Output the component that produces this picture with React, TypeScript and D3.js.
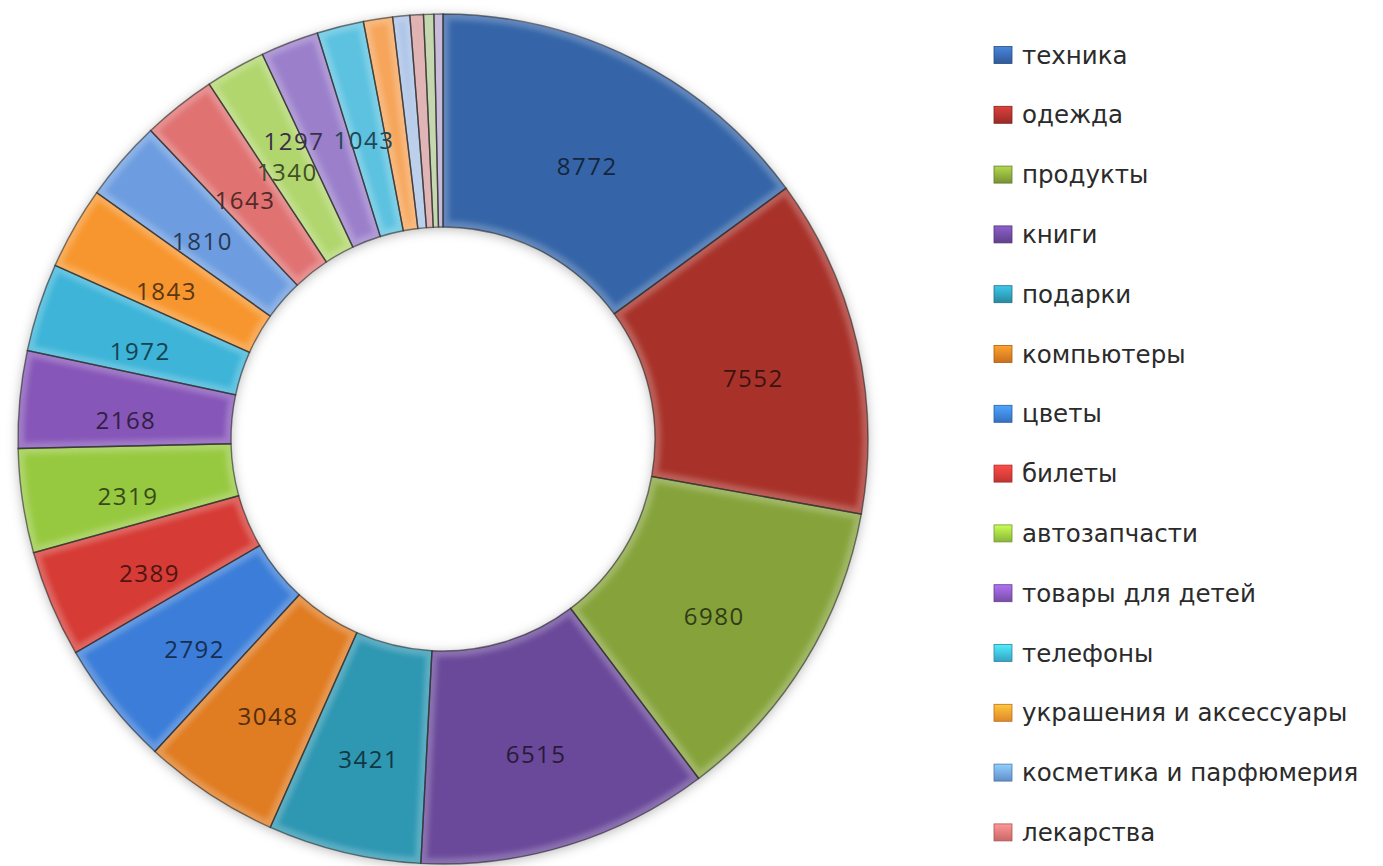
import React from "react";
import * as d3 from "d3";

// ---- data ----
const categories = [
  "техника",
  "одежда",
  "продукты",
  "книги",
  "подарки",
  "компьютеры",
  "цветы",
  "билеты",
  "автозапчасти",
  "товары для детей",
  "телефоны",
  "украшения и аксессуары",
  "косметика и парфюмерия",
  "лекарства",
];

const values = [
  8772, 7552, 6980, 6515, 3421, 3048, 2792, 2389, 2319, 2168, 1972, 1843,
  1810, 1643, 1340, 1297, 1043, 650, 380, 300, 230, 200,
];

const palette = [
  "#3565a8", "#a8302c", "#86a33a", "#6a489a", "#2e97b2", "#e07b22",
  "#3b7dd8", "#d63a36", "#97c940", "#8656b8", "#3cb4d8", "#f7962e",
  "#6d9de0", "#e07272", "#b1d66e", "#9b7fcb", "#5bc2e0", "#f6a55a",
  "#a9c1e6", "#d9a0a0", "#b3cc98", "#b8a9cf",
];

// label nudges (crowded small slices), in px
const labelNudge: Record<number, [number, number]> = {
  15: [-34, -12],
  16: [-2, 0],
};

const W = 1383;
const H = 866;
const cx = 443;
const cy = 439;
const outerR = 425;
const innerR = 212;

export default function App() {
  const pie = d3.pie<number>().sort(null).value((d) => d)(values);
  const arc = d3.arc<d3.PieArcDatum<number>>().innerRadius(innerR).outerRadius(outerR);

  const legendY = d3
    .scalePoint<string>()
    .domain(categories)
    .range([55, 55 + 59.8 * (categories.length - 1)]);

  return (
    <svg
      width={W}
      height={H}
      style={{ position: "absolute", left: 0, top: 0, background: "#fff" }}
    >
      <defs>
        <filter id="shadow" x="-10%" y="-10%" width="120%" height="120%">
          <feDropShadow dx="0" dy="2" stdDeviation="6" floodColor="#000" floodOpacity="0.28" />
        </filter>
        <filter id="soft" x="-5%" y="-5%" width="110%" height="110%">
          <feGaussianBlur stdDeviation="2.5" />
        </filter>
        {pie.map((p, i) => (
          <clipPath id={`clip-${i}`} key={i}>
            <path d={arc(p) || ""} />
          </clipPath>
        ))}
        {palette.slice(0, categories.length).map((c, i) => (
          <linearGradient id={`lg-${i}`} key={i} x1="0" y1="0" x2="0" y2="1">
            <stop offset="0" stopColor={d3.color(c)!.brighter(0.8).formatHex()} />
            <stop offset="1" stopColor={d3.color(c)!.darker(0.3).formatHex()} />
          </linearGradient>
        ))}
      </defs>

      <g transform={`translate(${cx},${cy})`}>
        <g filter="url(#shadow)">
          {pie.map((p, i) => (
            <path key={i} d={arc(p) || ""} fill={palette[i]} />
          ))}
        </g>
        {pie.map((p, i) => (
          <g key={i} clipPath={`url(#clip-${i})`}>
            <path
              d={arc(p) || ""}
              fill="none"
              stroke="#fff"
              strokeOpacity={0.22}
              strokeWidth={12}
              filter="url(#soft)"
            />
          </g>
        ))}
        {pie.map((p, i) => (
          <path
            key={i}
            d={arc(p) || ""}
            fill="none"
            stroke="#262626"
            strokeOpacity={0.6}
            strokeWidth={1.4}
          />
        ))}
        {pie.map((p, i) => {
          if (p.value < 1000) return null;
          const [x, y] = arc.centroid(p);
          const [nx, ny] = labelNudge[i] || [0, 0];
          return (
            <text
              key={i}
              x={x + nx}
              y={y + 10 + ny}
              textAnchor="middle"
              dominantBaseline="central"
              fontFamily="'Open Sans', sans-serif"
              fontSize={24}
              letterSpacing={1.5}
              fill={d3.color(palette[i])!.darker(2.8).formatHex()}
            >
              {p.value}
            </text>
          );
        })}
      </g>

      <g>
        {categories.map((c, i) => {
          const y = legendY(c)!;
          return (
            <g key={c}>
              <rect
                x={994}
                y={y - 8.5}
                width={18}
                height={17}
                fill={`url(#lg-${i})`}
                stroke={d3.color(palette[i])!.darker(0.8).formatHex()}
                strokeWidth={0.8}
              />
              <text
                x={1022}
                y={y}
                dominantBaseline="central"
                fontFamily="'DejaVu Sans', sans-serif"
                fontSize={24.5}
                fill="#2b2b2b"
              >
                {c}
              </text>
            </g>
          );
        })}
      </g>
    </svg>
  );
}
